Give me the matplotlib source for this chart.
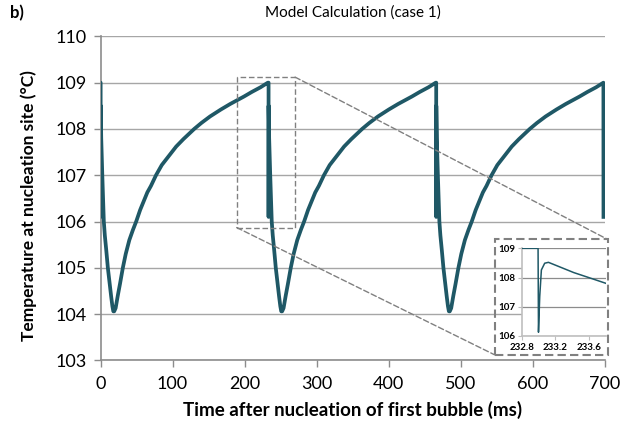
import matplotlib
matplotlib.use("Agg")
import matplotlib.pyplot as plt
from matplotlib.patches import Rectangle, ConnectionPatch

plt.rcParams['font.family'] = ['Lato', 'DejaVu Sans']

# bubble nucleation times (ms) and one cycle (ms after nucleation, degC)
bubble_starts = [0, 233.0, 465.6]
cycle_t = [0.0, 0.19, 0.2, 0.3, 1.0, 2.5, 4.6, 6.0, 8.0, 10.2, 12.5, 14.8, 16.5,
           17.8, 19.0, 21.0, 24.0, 27.0, 31.0, 35.0, 40.0, 45.0, 49.5, 55.0, 59.0,
           65.0, 70.0, 77.0, 85.0, 92.0, 98.0, 105.0, 115.0, 130.0, 140.0, 152.0,
           167.0, 180.0, 199.0, 210.0, 222.0, 232.2]
cycle_T = [109.0, 109.0, 106.1, 108.5, 107.8, 107.0, 106.0, 105.7, 105.38, 105.0,
           104.68, 104.38, 104.17, 104.06, 104.06, 104.13, 104.4, 104.65, 105.0,
           105.3, 105.6, 105.82, 106.0, 106.25, 106.4, 106.63, 106.77, 107.0, 107.22,
           107.36, 107.48, 107.62, 107.78, 108.0, 108.13, 108.27, 108.42, 108.54,
           108.7, 108.8, 108.9, 109.0]
end_t = [697.8, 697.9]
end_T = [109.0, 106.1]

# zoomed inset around the second nucleation
inset_t = [232.8, 232.99, 232.995, 233.01, 233.03, 233.07, 233.115, 233.22, 233.42, 233.6, 233.81]
inset_T = [109.0, 109.0, 106.13, 107.35, 108.26, 108.49, 108.52, 108.4, 108.17, 108.0, 107.8]

x_ticks = [0, 100, 200, 300, 400, 500, 600, 700]
y_ticks = [103, 104, 105, 106, 107, 108, 109, 110]

line_col = '#1f5866'
grid_col = '#a6a6a6'
axis_col = '#8c8c8c'

t_all, T_all = [], []
for s in bubble_starts:
    t_all += [s + t for t in cycle_t]
    T_all += cycle_T
t_all += end_t
T_all += end_T

fig = plt.figure(figsize=(6.25, 4.29), dpi=100)
ax = fig.add_axes([0.1608, 0.1599, 0.8072, 0.7553])
ax.plot(t_all, T_all, color=line_col, lw=2.7, solid_joinstyle='round', zorder=3)
ax.set_xlim(0, 700)
ax.set_ylim(103, 110)
ax.set_xticks(x_ticks)
ax.set_yticks(y_ticks)
ax.grid(axis='y', color=grid_col, lw=1.0)
ax.set_axisbelow(True)
for side in ['top', 'right']:
    ax.spines[side].set_visible(False)
for side in ['left', 'bottom']:
    ax.spines[side].set_color(axis_col)
    ax.spines[side].set_linewidth(1.2)
ax.tick_params(axis='both', direction='out', length=5, width=1, color=axis_col,
               labelsize=13)
ax.tick_params(axis='x', pad=6)
ax.tick_params(axis='y', pad=5)
ax.set_xlabel('Time after nucleation of first bubble (ms)', fontsize=13.5,
              fontweight='bold')
ax.xaxis.set_label_coords(0.5, -0.125)
ax.set_ylabel('Temperature at nucleation site (°C)', fontsize=12.5,
              fontweight='bold')
ax.yaxis.set_label_coords(-0.125, 0.477)
ax.set_title('Model Calculation (case 1)', fontsize=11, pad=14)
fig.text(0.016, 0.988, 'b)', fontsize=12, fontweight='bold', va='top')

# zoom marker rectangle in the main plot
ax.add_patch(Rectangle((189, 105.87), 81, 3.25, fill=False, ls=(0, (4, 2)),
                       ec='#808080', lw=1.0, zorder=4))

# dashed box around the inset
fig.patches.append(Rectangle((0.792, 0.1725), 0.1803, 0.2697, fill=False,
                             ls=(0, (4, 2)), ec='#808080', lw=1.5,
                             transform=fig.transFigure, figure=fig, zorder=5))
for xy_data, xy_fig in [((270, 109.12), (0.972, 0.4422)),
                        ((189, 105.87), (0.792, 0.1725))]:
    con = ConnectionPatch(xyA=xy_data, coordsA=ax.transData,
                          xyB=xy_fig, coordsB=fig.transFigure,
                          ls=(0, (4, 2)), color='#808080', lw=1.0)
    fig.add_artist(con)

ins = fig.add_axes([0.8357, 0.2168, 0.134, 0.2044])
ins.set_facecolor('white')
ins.plot(inset_t, inset_T, color=line_col, lw=1.1, zorder=3)
ins.set_xlim(232.8, 233.81)
ins.set_ylim(106, 109)
ins.set_xticks([232.8, 233.2, 233.6])
ins.set_xticklabels(['232.8', '233.2', '233.6'])
ins.set_yticks([106, 107, 108, 109])
ins.grid(axis='y', color='#8c8c8c', lw=0.9)
ins.set_axisbelow(True)
for side in ['top', 'right']:
    ins.spines[side].set_visible(False)
for side in ['left', 'bottom']:
    ins.spines[side].set_color('#bfbfbf')
    ins.spines[side].set_linewidth(1.2)
ins.tick_params(axis='both', direction='out', length=3, width=0.8, color='#bfbfbf',
                labelsize=7, pad=2)
for lbl in ins.get_xticklabels() + ins.get_yticklabels():
    lbl.set_fontweight('bold')

fig.savefig('out.png', dpi=100)
